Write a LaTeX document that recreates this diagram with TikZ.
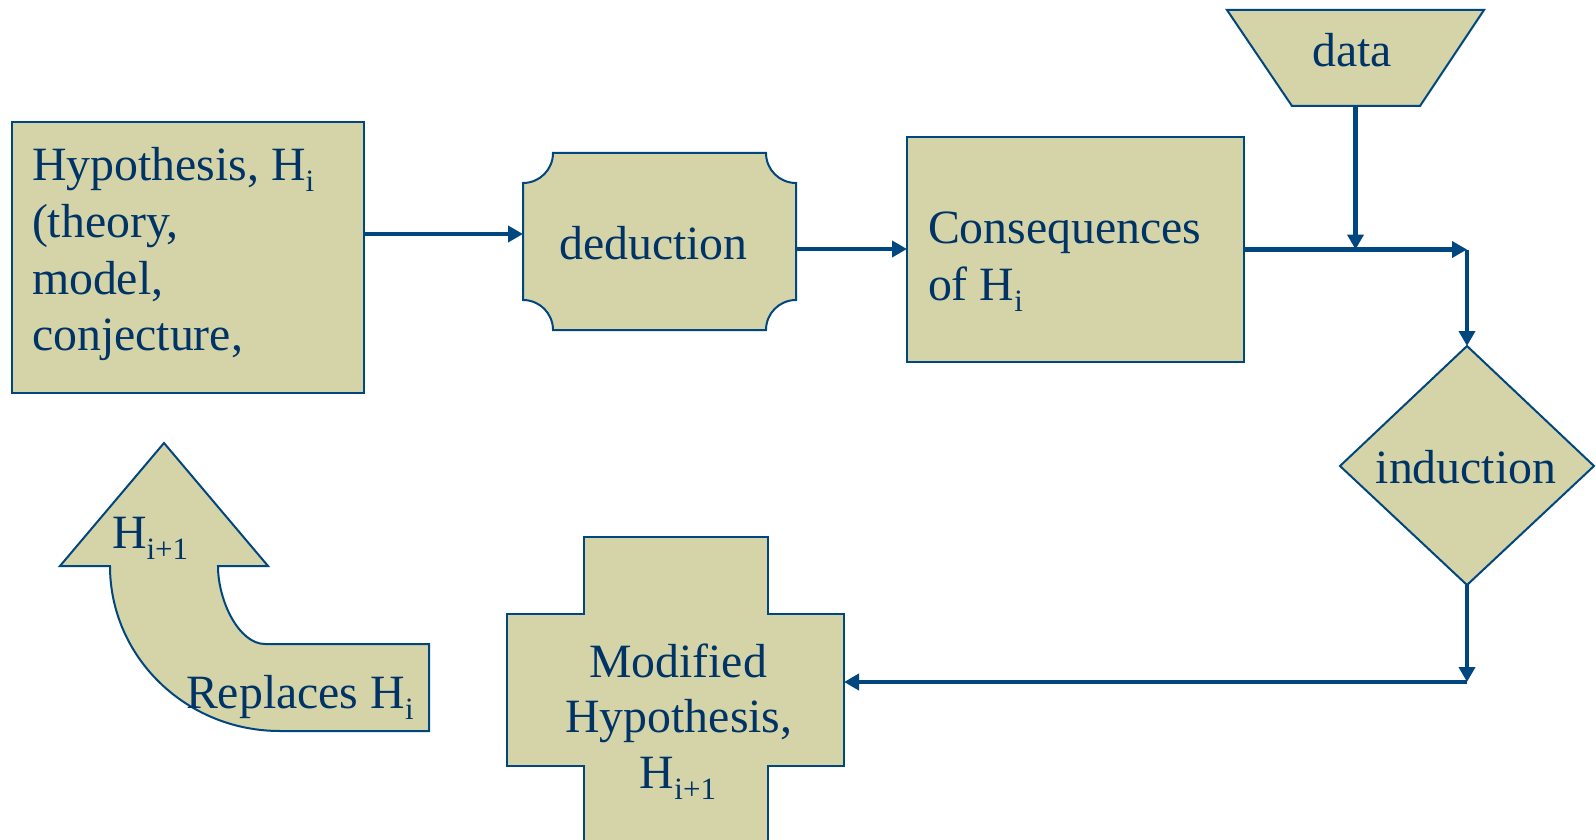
\documentclass[tikz,border=0pt]{standalone}
\usepackage{fontspec}
\setmainfont{Liberation Serif}
\usetikzlibrary{arrows.meta}
\definecolor{shapefill}{RGB}{213,212,169}
\definecolor{navytext}{RGB}{0,51,102}
\definecolor{navyline}{RGB}{0,70,127}
\newcommand\sbs[1]{\raisebox{-11pt}{\fontsize{31}{31}\selectfont #1}}
\begin{document}
\begin{tikzpicture}[x=1pt,y=-1pt,
  shapebox/.style={draw=navyline, fill=shapefill, line width=2pt, line join=miter},
  holder/.style={inner sep=0pt, outer sep=0pt},
  txt/.style={inner sep=0pt, outer sep=0pt, text=navytext, font=\fontsize{47.8}{56}\selectfont},
  arr/.style={draw=navyline, line width=4.5pt, -{Triangle[length=15pt,width=16pt]}}]
\useasboundingbox (0,0) rectangle (1596,840);
\clip (0,0) rectangle (1596,840);
\fill[white] (0,0) rectangle (1596,840);

% Hypothesis box
\node[shapebox, holder, minimum width=352pt, minimum height=271pt] (hyp) at (188,257.5) {};
\node[txt, anchor=base west] (hyp1) at (32,181) {Hypothesis, H\sbs{i}};
\node[txt, anchor=base west] (hyp2) at (32,237.5) {(theory,};
\node[txt, anchor=base west] (hyp3) at (32,294) {model,};
\node[txt, anchor=base west] (hyp4) at (32,350) {conjecture,};

% deduction
\path[shapebox] (523,183) .. controls (539.6,183) and (553,169.6) .. (553,153)
  -- (766,153) .. controls (766,169.6) and (779.4,183) .. (796,183)
  -- (796,300) .. controls (779.4,300) and (766,313.4) .. (766,330)
  -- (553,330) .. controls (553,313.4) and (539.6,300) .. (523,300) -- cycle;
\node[holder, minimum width=273pt, minimum height=177pt] (ded) at (659.5,241.5) {};
\node[txt, anchor=base] (dedtext) at (653.5,259) {deduction};

% Consequences
\node[shapebox, holder, minimum width=337pt, minimum height=225pt] (cons) at (1075.5,249.5) {};
\node[txt, anchor=base west] (cons1) at (928,243) {Consequences};
\node[txt, anchor=base west] (cons2) at (928,300) {of H\sbs{i}};

% data
\path[shapebox] (1227,10) -- (1484,10) -- (1420,106) -- (1292,106) -- cycle;
\node[holder, minimum width=257pt, minimum height=96pt] (data) at (1355.5,58) {};
\node[txt, anchor=base] (datatext) at (1352,67) {data};

% induction
\path[shapebox] (1467,346) -- (1594,466) -- (1467,585) -- (1340,466) -- cycle;
\node[holder, minimum width=254pt, minimum height=239pt] (ind) at (1467,465.5) {};
\node[txt, anchor=base] (indtext) at (1466,483) {induction};

% Modified hypothesis (cross)
\path[shapebox] (584,537) -- (768,537) -- (768,614) -- (844,614) -- (844,766)
  -- (768,766) -- (768,870) -- (584,870) -- (584,766) -- (507,766) -- (507,614)
  -- (584,614) -- cycle;
\node[holder, minimum width=337pt, minimum height=152pt] (mod) at (675.5,690) {};
\node[txt, anchor=base] (mod1) at (678,677) {Modified};
\node[txt, anchor=base] (mod2) at (679,732) {Hypothesis,};
\node[txt, anchor=base] (mod3) at (678,788) {H\sbs{i+1}};

% curved arrow
\path[shapebox] (164,443) -- (268,566) -- (218,566)
  .. controls (218,601) and (239,644) .. (265,644) -- (429,644) -- (429,731)
  -- (280,731) .. controls (186,731) and (110,657) .. (110,566) -- (60,566) -- cycle;
\node[txt, anchor=base west] (cur1) at (112,548) {H\sbs{i+1}};
\node[txt, anchor=base west] (cur2) at (186,708) {Replaces H\sbs{i}};

% connectors
\coordinate (c1) at (1467,249.5);
\coordinate (c2) at (1467,682);
\draw[arr] ([yshift=23.5pt]hyp.east) -- ([yshift=23.5pt]hyp.east -| ded.west);
\draw[arr] ([yshift=-7.5pt]ded.east) -- ([yshift=-7.5pt]ded.east -| cons.west);
\draw[arr] (cons.east) -- (c1);
\draw[arr] (data.south) -- (data.south |- c1);
\draw[arr] (c1) -- (ind.north);
\draw[arr] (ind.south) -- (c2);
\draw[arr] (c2) -- (c2 -| mod.east);
\end{tikzpicture}
\end{document}
